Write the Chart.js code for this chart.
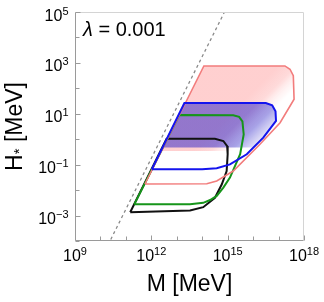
<!DOCTYPE html>
<html>
<head>
<meta charset="utf-8">
<script src="https://cdn.jsdelivr.net/npm/chart.js@4.4.1/dist/chart.umd.min.js"></script>
<style>
  html, body { margin: 0; padding: 0; background: #fff; }
</style>
</head>
<body>
<canvas id="myChart" width="324" height="302"></canvas>
<script>
// values are log10 exponents (M and H* in MeV)
var lambdaText = "0.001";
var xTickExp = [9, 12, 15, 18];
var yTickExp = [5, 3, 1, -1, -3];

var dashM = [10.3, 15.0];
var dashH = [-4.15, 5.25];

var pinkM = [12.4, 14.065, 17.25, 17.45, 17.58, 17.61, 16.9, 16.0, 15.2, 12.4];
var pinkH = [-0.46, 2.88, 2.88, 2.75, 2.5, 1.9, 1.2, 0.3, -0.46, -0.46];

var blueFillM = [12.43, 13.3, 16.5, 16.75, 16.88, 16.9, 16.4, 16.0, 12.43];
var blueFillH = [-0.33, 1.42, 1.42, 1.33, 1.1, 0.72, 0.06, -0.33, -0.33];

var redM = [11.75, 14.065, 17.25, 17.45, 17.58, 17.61, 17.06, 16.27, 15.22, 14.57, 14.18, 11.75];
var redH = [-1.76, 2.88, 2.88, 2.75, 2.5, 1.57, 0.65, -0.2, -1.25, -1.64, -1.75, -1.76];

var blueM = [12.02, 13.3, 16.5, 16.75, 16.88, 16.9, 16.4, 15.75, 15.09, 14.57, 14.0, 12.02];
var blueH = [-1.18, 1.42, 1.42, 1.33, 1.1, 0.72, 0.06, -0.59, -0.99, -1.14, -1.18, -1.18];

var greenM = [11.33, 13.1, 15.22, 15.45, 15.58, 15.63, 15.49, 15.29, 15.09, 14.83, 14.57, 14.31, 14.04, 13.52, 11.33];
var greenH = [-2.56, 0.95, 0.94, 0.88, 0.7, 0.19, -0.59, -1.05, -1.51, -1.9, -2.23, -2.39, -2.5, -2.56, -2.56];

var blackM = [11.17, 12.6, 14.5, 14.83, 14.98, 15.0, 14.96, 14.77, 14.5, 14.04, 13.52, 11.17];
var blackH = [-2.87, 0.02, 0.02, -0.07, -0.27, -0.59, -1.25, -1.77, -2.3, -2.67, -2.8, -2.87];

function pts(ms, hs) {
    var out = [];
    for (var i = 0; i < ms.length; i++) {
        out.push({x: Math.pow(10, ms[i]), y: Math.pow(10, hs[i])});
    }
    return out;
}

var FONT = '"Liberation Sans", Arial, sans-serif';

// fill that fades out towards the lower right; stops are [x+y in pixels, alpha]
function fade(rgb, stops) {
    return function(context) {
        var chart = context.chart;
        if (!chart.chartArea) return 'rgba(' + rgb + ',' + stops[0][1] + ')';
        var s0 = stops[0][0], s1 = stops[stops.length - 1][0];
        var g = chart.ctx.createLinearGradient(s0 / 2, s0 / 2, s1 / 2, s1 / 2);
        stops.forEach(function(s) {
            g.addColorStop((s[0] - s0) / (s1 - s0), 'rgba(' + rgb + ',' + s[1] + ')');
        });
        return g;
    };
}

function powLabel(ctx, exp, x, y, axis) {
    var base = '10';
    var sup = exp < 0 ? '\u2212' + (-exp) : String(exp);
    ctx.font = '16px ' + FONT;
    var wb = ctx.measureText(base).width;
    ctx.font = '11px ' + FONT;
    var ws = ctx.measureText(sup).width;
    var x0, yb, ys;
    if (axis === 'x') {
        x0 = x - (wb + ws) / 2;
        yb = y + 20;
        ys = y + 14;
    } else {
        x0 = x - (wb + ws);
        yb = y + 8.5;
        ys = y + 2.5;
    }
    ctx.textAlign = 'left';
    ctx.textBaseline = 'alphabetic';
    ctx.font = '16px ' + FONT;
    ctx.fillText(base, x0, yb);
    ctx.font = '11px ' + FONT;
    ctx.fillText(sup, x0 + wb, ys);
}

var framePlugin = {
    id: 'frame',
    afterDraw: function(chart) {
        var ctx = chart.ctx;
        var a = chart.chartArea;
        var xs = chart.scales.x, ys = chart.scales.y;
        var L = Math.round(a.left) + 0.5, R = Math.round(a.right) - 0.5;
        var T = Math.round(a.top) + 0.5, B = Math.round(a.bottom) - 0.5;
        ctx.save();
        ctx.lineWidth = 1;
        // light top and right border
        ctx.strokeStyle = '#d4d4d4';
        ctx.beginPath();
        ctx.moveTo(L, T); ctx.lineTo(R, T); ctx.lineTo(R, B);
        ctx.stroke();
        // axes
        ctx.strokeStyle = '#9a9a9a';
        ctx.beginPath();
        ctx.moveTo(L, T); ctx.lineTo(L, B); ctx.lineTo(R, B);
        ctx.stroke();
        // inward ticks every decade
        ctx.beginPath();
        for (var e = 9; e <= 18; e++) {
            var px = Math.round(xs.getPixelForValue(Math.pow(10, e))) + 0.5;
            var len = xTickExp.indexOf(e) >= 0 ? 5 : 4;
            ctx.moveTo(px, B); ctx.lineTo(px, B - len);
        }
        for (var k = -4; k <= 5; k++) {
            var py = Math.round(ys.getPixelForValue(Math.pow(10, k))) + 0.5;
            var ln = yTickExp.indexOf(k) >= 0 ? 5 : 4;
            ctx.moveTo(L, py); ctx.lineTo(L + ln, py);
        }
        ctx.stroke();

        ctx.fillStyle = '#000';
        xTickExp.forEach(function(e) {
            powLabel(ctx, e, xs.getPixelForValue(Math.pow(10, e)), a.bottom, 'x');
        });
        yTickExp.forEach(function(k) {
            powLabel(ctx, k, a.left - 6.5, ys.getPixelForValue(Math.pow(10, k)), 'y');
        });

        // x title
        ctx.font = '23px ' + FONT;
        ctx.textAlign = 'center';
        ctx.fillText('M [MeV]', (a.left + a.right) / 2, 290.5);

        // y title, H with subscript star
        ctx.save();
        ctx.translate(21.5, (a.top + a.bottom) / 2);
        ctx.rotate(-Math.PI / 2);
        ctx.font = '23px ' + FONT;
        var wH = ctx.measureText('H').width;
        var wR = ctx.measureText(' [MeV]').width;
        ctx.font = '15px ' + FONT;
        var wS = ctx.measureText('*').width;
        var x0 = -(wH + wS + wR) / 2;
        ctx.textAlign = 'left';
        ctx.font = '23px ' + FONT;
        ctx.fillText('H', x0, 0);
        ctx.font = '15px ' + FONT;
        ctx.fillText('*', x0 + wH, 2.5);
        ctx.font = '23px ' + FONT;
        ctx.fillText(' [MeV]', x0 + wH + wS, 0);
        ctx.restore();

        // lambda label
        ctx.textAlign = 'left';
        ctx.font = 'italic 20px ' + FONT;
        ctx.fillText('\u03bb', 83, 36);
        var wl = ctx.measureText('\u03bb').width;
        ctx.font = '20px ' + FONT;
        ctx.fillText(' = ' + lambdaText, 83 + wl, 36);
        ctx.restore();
    }
};

new Chart("myChart", {
    type: "scatter",
    data: {
        datasets: [
            {data: pts(blueM, blueH), showLine: true, borderColor: '#1414ee', borderWidth: 2, pointRadius: 0, fill: false, order: 1},
            {data: pts(redM, redH), showLine: true, borderColor: '#f27c7c', borderWidth: 1.6, pointRadius: 0, fill: false, order: 2},
            {data: pts(greenM, greenH), showLine: true, borderColor: '#16951a', borderWidth: 2, pointRadius: 0, fill: false, order: 3},
            {data: pts(blackM, blackH), showLine: true, borderColor: '#111111', borderWidth: 2, pointRadius: 0, fill: false, order: 4},
            {data: pts(dashM, dashH), showLine: true, borderColor: '#8a8a8a', borderWidth: 1.3, borderDash: [3, 3], pointRadius: 0, fill: false, order: 5},
            {data: pts(blueFillM, blueFillH), showLine: true, borderWidth: 0, borderColor: 'rgba(0,0,0,0)',
             backgroundColor: fade('40,30,200', [[360, 0.5], [382, 0.4], [404, 0.08]]), pointRadius: 0, fill: 'shape', order: 6},
            {data: pts(pinkM, pinkH), showLine: true, borderWidth: 0, borderColor: 'rgba(0,0,0,0)',
             backgroundColor: fade('255,150,150', [[345, 0.45], [362, 0.35], [372, 0.15], [384, 0.0]]), pointRadius: 0, fill: 'shape', order: 7}
        ]
    },
    options: {
        responsive: false,
        animation: false,
        devicePixelRatio: 1,
        layout: {padding: {left: 75, right: 20, top: 12, bottom: 61}},
        plugins: {legend: {display: false}, tooltip: {enabled: false}},
        scales: {
            x: {type: 'logarithmic', min: 1e9, max: 1e18, display: false},
            y: {type: 'logarithmic', min: 1e-4, max: 1e5, display: false}
        }
    },
    plugins: [framePlugin]
});
</script>
</body>
</html>
